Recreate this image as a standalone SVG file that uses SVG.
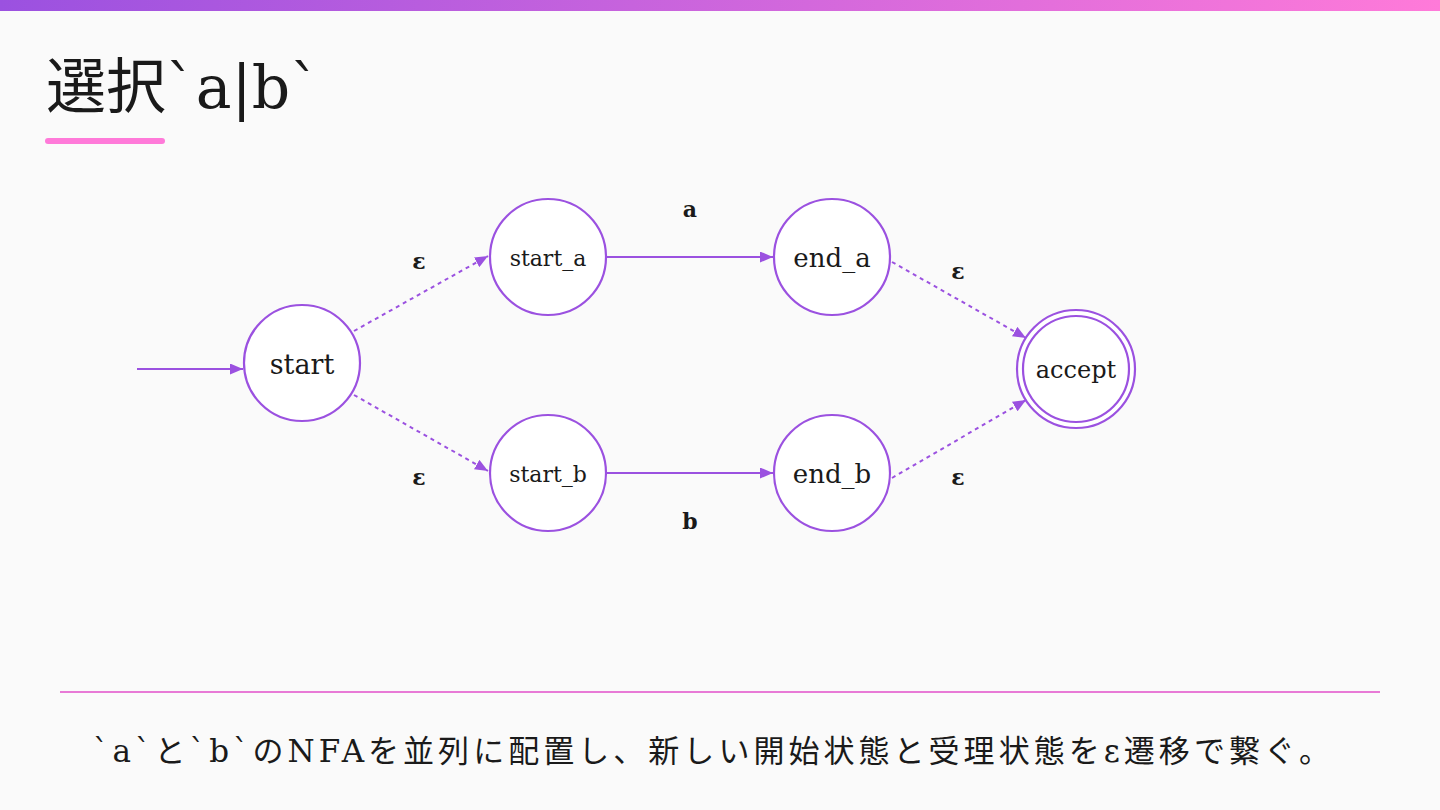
<svg xmlns="http://www.w3.org/2000/svg" width="1440" height="810" viewBox="0 0 1440 810">
<defs>
<linearGradient id="topbar" x1="0" y1="0" x2="1" y2="0">
<stop offset="0" stop-color="#9b51e0"/>
<stop offset="1" stop-color="#ff7ad9"/>
</linearGradient>
<marker id="arr" viewBox="0 0 13 11" refX="13" refY="5.5" markerWidth="13" markerHeight="11" markerUnits="userSpaceOnUse" orient="auto">
<path d="M0,0 L13,5.5 L0,11 Z" fill="#9b51e0"/>
</marker>
<style>
.node{fill:#ffffff;stroke:#9b51e0;stroke-width:2.2}
.lbl{font-family:"DejaVu Serif","Liberation Serif",serif;fill:#1a1a1a;text-anchor:middle;dominant-baseline:central}
.edge{stroke:#9b51e0;stroke-width:2;fill:none;marker-end:url(#arr)}
.dash{stroke-dasharray:4 4}
.elbl{font-family:"DejaVu Serif","Liberation Serif",serif;font-weight:bold;font-size:22px;fill:#1a1a1a;text-anchor:middle;dominant-baseline:central}
</style>
</defs>
<rect x="0" y="0" width="1440" height="810" fill="#fafafa"/>
<rect x="0" y="0" width="1440" height="11" fill="url(#topbar)"/>
<text x="46" y="108" font-family="'DejaVu Serif','Noto Sans CJK JP',serif" font-size="60" fill="#1a1a1a" textLength="274" lengthAdjust="spacing">選択`a|b`</text>
<rect x="45" y="138" width="120" height="6" rx="3" fill="#ff7ad9"/>

<g id="connectors">
<line class="edge" x1="137" y1="369" x2="243" y2="369"/>
<line class="edge dash" x1="354" y1="331" x2="488" y2="256"/>
<line class="edge dash" x1="354" y1="395" x2="488" y2="471"/>
<line class="edge" x1="607" y1="257" x2="773" y2="257"/>
<line class="edge" x1="607" y1="473" x2="773" y2="473"/>
<line class="edge dash" x1="892" y1="262" x2="1026" y2="338"/>
<line class="edge dash" x1="892" y1="478" x2="1026" y2="400"/>
<text class="elbl" x="419" y="261">ε</text>
<text class="elbl" x="419" y="477">ε</text>
<text class="elbl" x="690" y="209">a</text>
<text class="elbl" x="690" y="521">b</text>
<text class="elbl" x="958" y="271">ε</text>
<text class="elbl" x="958" y="477">ε</text>
</g>

<g id="node-start">
<circle class="node" cx="302" cy="363" r="58"/>
<text class="lbl" x="302" y="364" font-size="27">start</text>
</g>
<g id="node-start_a">
<circle class="node" cx="548" cy="257" r="58"/>
<text class="lbl" x="548" y="258" font-size="22">start_a</text>
</g>
<g id="node-end_a">
<circle class="node" cx="832" cy="257" r="58"/>
<text class="lbl" x="832" y="258" font-size="26">end_a</text>
</g>
<g id="node-start_b">
<circle class="node" cx="548" cy="473" r="58"/>
<text class="lbl" x="548" y="474" font-size="22">start_b</text>
</g>
<g id="node-end_b">
<circle class="node" cx="832" cy="473" r="58"/>
<text class="lbl" x="832" y="474" font-size="26">end_b</text>
</g>
<g id="node-accept">
<circle class="node" cx="1076" cy="369" r="59"/>
<circle class="node" cx="1076" cy="369" r="53"/>
<text class="lbl" x="1076" y="370" font-size="24">accept</text>
</g>

<line x1="60" y1="692" x2="1380" y2="692" stroke="#e87ad6" stroke-width="2"/>
<text x="93" y="762" font-family="'DejaVu Serif','Noto Sans CJK JP',serif" font-size="31" fill="#1a1a1a" textLength="1237" lengthAdjust="spacing">`a`と`b`のNFAを並列に配置し、新しい開始状態と受理状態をε遷移で繋ぐ。</text>
</svg>
